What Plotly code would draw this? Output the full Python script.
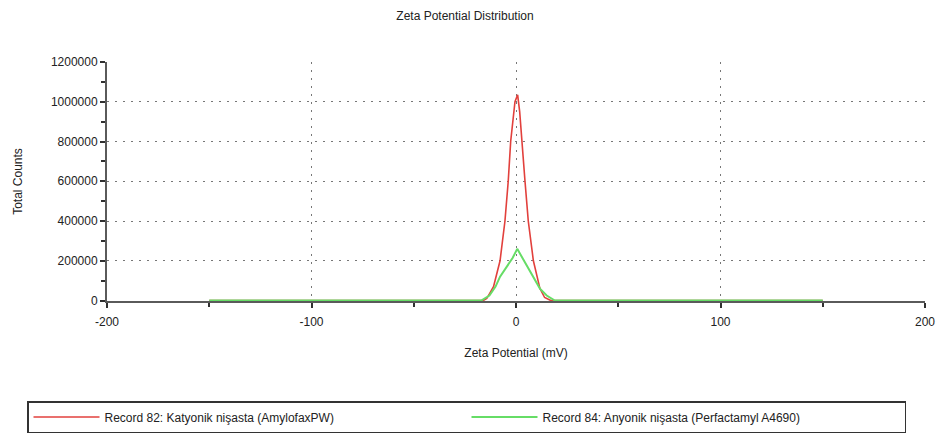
import plotly.graph_objects as go

# Data
red_name = "Record 82: Katyonik nişasta (AmylofaxPW)"
red_x = [-150, -16, -14.3, -11, -7.8, -5.4, -3.8, -2.6, -0.5, 0.8, 1.8, 2.8, 4.4, 6.0, 8.5, 11.7, 14, 17, 150]
red_y = [0, 0, 10000, 70000, 200000, 400000, 600000, 800000, 1000000, 1035000, 950000, 800000, 600000, 400000, 200000, 60000, 15000, 0, 0]

green_name = "Record 84: Anyonik nişasta (Perfactamyl A4690)"
green_x = [-150, -17, -13, -10, -7.8, -4, -1.6, 0.6, 2, 3.6, 6, 8.5, 11.7, 15, 19, 150]
green_y = [0, 0, 25000, 70000, 120000, 175000, 215000, 260000, 235000, 205000, 160000, 120000, 60000, 25000, 0, 0]

x_ticks = [-200, -100, 0, 100, 200]
y_ticks = [0, 200000, 400000, 600000, 800000, 1000000, 1200000]

FONT = "Liberation Sans, Arial, sans-serif"
TXT = "#222222"

fig = go.Figure()
fig.add_trace(go.Scatter(x=red_x, y=red_y, mode="lines", name=red_name,
                         line=dict(color="#e2403c", width=1.6), cliponaxis=False))
fig.add_trace(go.Scatter(x=green_x, y=green_y, mode="lines", name=green_name,
                         line=dict(color="#66dd66", width=2), cliponaxis=False))

axis_common = dict(
    showline=True, linecolor="#5a5a5a", linewidth=2,
    ticks="outside", ticklen=5, tickcolor="#303030", tickwidth=1.5,
    showgrid=True, gridcolor="#777777", gridwidth=1, griddash="2px,6px",
    zeroline=False, layer="below traces",
    tickfont=dict(family=FONT, size=12, color=TXT),
)

fig.update_xaxes(
    range=[-200, 200], tickvals=x_ticks, ticktext=[str(v) for v in x_ticks],
    minor=dict(dtick=50, ticks="outside", ticklen=4, tickcolor="#303030", showgrid=False),
    title=dict(text="Zeta Potential (mV)", font=dict(family=FONT, size=12, color=TXT), standoff=20),
    ticklabelstandoff=4,
    **axis_common,
)
fig.update_yaxes(
    range=[-2500, 1200000], tickvals=y_ticks, ticktext=[str(v) for v in y_ticks],
    minor=dict(dtick=100000, ticks="outside", ticklen=4, tickcolor="#303030", showgrid=False),
    title=dict(text="Total Counts", font=dict(family=FONT, size=12, color=TXT), standoff=26),
    ticklabelstandoff=0,
    **axis_common,
)

PLOT_W = 942 - 107 - 17
PLOT_H = 439 - 62 - 138

fig.update_layout(
    width=942, height=439,
    margin=dict(l=107, r=17, t=62, b=138, autoexpand=False),
    paper_bgcolor="white", plot_bgcolor="white",
    title=dict(text="Zeta Potential Distribution", x=465 / 942, xanchor="center",
               y=1 - 16 / 439, yanchor="middle",
               font=dict(family=FONT, size=12, color=TXT)),
    showlegend=True,
    legend=dict(orientation="h", x=(27 - 107) / PLOT_W, xanchor="left",
                y=-(401 - 62 - PLOT_H) / PLOT_H, yanchor="top",
                bordercolor="#333333", borderwidth=1.5, bgcolor="white",
                entrywidth=357, entrywidthmode="pixels", itemwidth=66,
                font=dict(family=FONT, size=12, color=TXT), tracegroupgap=0),
)

fig.write_html("out.html")
